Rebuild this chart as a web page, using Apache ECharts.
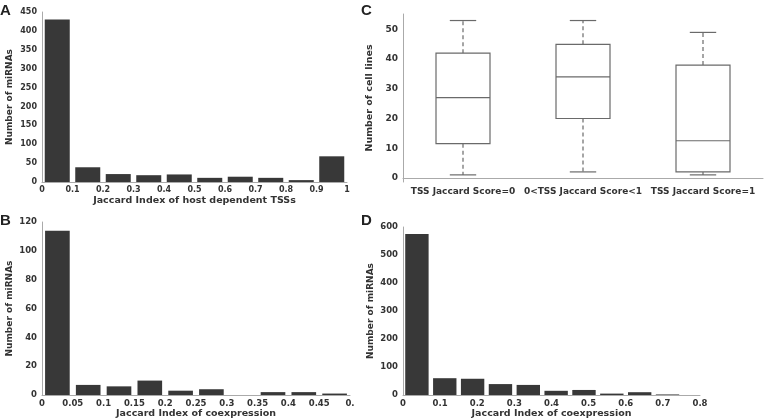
<!DOCTYPE html>
<html><head><meta charset="utf-8">
<script src="https://cdn.jsdelivr.net/npm/echarts@6/dist/echarts.min.js"></script>
<style>html,body{margin:0;padding:0;background:#fff}#c{width:765px;height:420px}</style>
</head><body><div id="c"></div>
<script>
// Panel A: histogram of Jaccard index of host dependent TSSs (bin centers, counts)
const aBinCenters = [0.05, 0.15, 0.25, 0.35, 0.45, 0.55, 0.65, 0.75, 0.85, 0.95];
const aCounts = [430, 39, 21, 18, 20, 11, 14, 11, 5, 68];
// Panel B: histogram of Jaccard index of coexpression
const bBinCenters = [0.025, 0.075, 0.125, 0.175, 0.225, 0.275, 0.325, 0.375, 0.425, 0.475];
const bCounts = [114, 7, 6, 10, 3, 4, 0, 2, 2, 1];
// Panel C: boxplot of number of cell lines [min, Q1, median, Q3, max]
const cCategories = ['TSS Jaccard Score=0', '0<TSS Jaccard Score<1', 'TSS Jaccard Score=1'];
const cBoxes = [
  [1, 11.5, 27, 42, 53],
  [2, 20, 34, 45, 53],
  [1, 2, 12.5, 38, 49]
];
// Panel D: histogram of Jaccard index of coexpression
const dBinCenters = [0.0375, 0.1125, 0.1875, 0.2625, 0.3375, 0.4125, 0.4875, 0.5625, 0.6375, 0.7125];
const dCounts = [575, 60, 58, 39, 36, 15, 18, 5, 10, 2];
// tick values
const cTicks = [0, 10, 20, 30, 40, 50];

const TXT = '#333';
const FONT = 'DejaVu Sans';
const AXL = '#aaa';
const BAR = '#383838';

function valX(gi, max, interval, name, fs, fmt) {
  return {
    type: 'value', gridIndex: gi, min: 0, max: max, interval: interval,
    name: name, nameLocation: 'middle', nameGap: 14,
    nameTextStyle: {color: TXT, fontFamily: FONT, fontWeight: 'bold', fontSize: 9.5},
    axisLine: {show: true, lineStyle: {color: AXL, width: 1}},
    axisTick: {show: false}, splitLine: {show: false},
    axisLabel: {color: TXT, fontFamily: FONT, fontWeight: 'bold', fontSize: fs, margin: 4,
      showMaxLabel: true, formatter: fmt || (v => String(+v.toFixed(3)))}
  };
}
function valY(gi, max, interval, fs) {
  return {
    type: 'value', gridIndex: gi, min: 0, max: max, interval: interval,
    name: 'Number of miRNAs', nameLocation: 'middle', nameGap: 28,
    nameTextStyle: {color: TXT, fontFamily: FONT, fontWeight: 'bold', fontSize: 9},
    axisLine: {show: true, lineStyle: {color: AXL, width: 1}},
    axisTick: {show: false}, splitLine: {show: false},
    axisLabel: {color: TXT, fontFamily: FONT, fontWeight: 'bold', fontSize: fs, margin: 5}
  };
}
function pairs(xs, ys) { return xs.map((x, i) => [x, ys[i]]); }

const chart = echarts.init(document.getElementById('c'), null, {renderer: 'canvas'});
const letterStyle = {fontFamily: 'Liberation Sans', fontWeight: 'bold', fontSize: 15, fill: '#222'};

chart.setOption({
  animation: false,
  backgroundColor: '#fff',
  grid: [
    {left: 42, right: 418, top: 12, bottom: 238},
    {left: 42, right: 415, top: 222, bottom: 25},
    {left: 403, right: 2, top: 14, bottom: 238},
    {left: 403, right: 65, top: 227, bottom: 25}
  ],
  xAxis: [
    valX(0, 1, 0.1, 'Jaccard Index of host dependent TSSs', 8),
    valX(1, 0.5, 0.05, 'Jaccard Index of coexpression', 8.5, v => (Math.abs(v - 0.5) < 1e-9 ? '0.' : String(+v.toFixed(3)))),
    {
      type: 'category', gridIndex: 2, data: cCategories, boundaryGap: true,
      axisLine: {show: true, lineStyle: {color: AXL, width: 1}},
      axisTick: {show: false}, splitLine: {show: false},
      axisLabel: {color: TXT, fontFamily: FONT, fontWeight: 'bold', fontSize: 9, margin: 5, interval: 0}
    },
    valX(3, 0.8, 0.1, 'Jaccard Index of coexpression', 8.5)
  ],
  yAxis: [
    valY(0, 450, 50, 8),
    valY(1, 120, 20, 8.5),
    {
      type: 'value', gridIndex: 2, min: -1.4, max: 55.2,
      name: 'Number of cell lines', nameLocation: 'middle', nameGap: 28,
      nameTextStyle: {color: TXT, fontFamily: FONT, fontWeight: 'bold', fontSize: 9.5},
      axisLine: {show: true, lineStyle: {color: AXL, width: 1}},
      axisTick: {show: false}, splitLine: {show: false},
      axisLabel: {color: TXT, fontFamily: FONT, fontWeight: 'bold', fontSize: 9, margin: 5,
        customValues: cTicks}
    },
    valY(3, 600, 100, 8.5)
  ],
  series: [
    {type: 'bar', xAxisIndex: 0, yAxisIndex: 0, data: pairs(aBinCenters, aCounts), barWidth: '82%', itemStyle: {color: BAR}},
    {type: 'bar', xAxisIndex: 1, yAxisIndex: 1, data: pairs(bBinCenters, bCounts), barWidth: '80%', itemStyle: {color: BAR}},
    {type: 'bar', xAxisIndex: 3, yAxisIndex: 3, data: pairs(dBinCenters, dCounts), barWidth: '84%', itemStyle: {color: BAR}},
    {
      type: 'custom', xAxisIndex: 2, yAxisIndex: 2,
      data: cBoxes.map((b, i) => [i].concat(b)),
      encode: {x: 0, y: [1, 2, 3, 4, 5]},
      renderItem: function (params, api) {
        const i = api.value(0);
        const band = api.size([1, 0])[0];
        const bw = band * 0.45, cw = band * 0.22;
        const pMin = api.coord([i, api.value(1)]);
        const pQ1 = api.coord([i, api.value(2)]);
        const pMed = api.coord([i, api.value(3)]);
        const pQ3 = api.coord([i, api.value(4)]);
        const pMax = api.coord([i, api.value(5)]);
        const cx = pMed[0];
        const solid = {stroke: '#6a6a6a', lineWidth: 1.2, fill: null};
        const dashed = {stroke: '#6a6a6a', lineWidth: 1.2, lineDash: [4, 3]};
        return {
          type: 'group',
          children: [
            {type: 'line', shape: {x1: cx, y1: pQ1[1], x2: cx, y2: pMin[1]}, style: dashed},
            {type: 'line', shape: {x1: cx, y1: pQ3[1], x2: cx, y2: pMax[1]}, style: dashed},
            {type: 'line', shape: {x1: cx - cw / 2, y1: pMin[1], x2: cx + cw / 2, y2: pMin[1]}, style: solid},
            {type: 'line', shape: {x1: cx - cw / 2, y1: pMax[1], x2: cx + cw / 2, y2: pMax[1]}, style: solid},
            {type: 'rect', shape: {x: cx - bw / 2, y: pQ3[1], width: bw, height: pQ1[1] - pQ3[1]}, style: {stroke: '#6a6a6a', lineWidth: 1.2, fill: '#fff'}},
            {type: 'line', shape: {x1: cx - bw / 2, y1: pMed[1], x2: cx + bw / 2, y2: pMed[1]}, style: solid}
          ]
        };
      }
    }
  ],
  graphic: [
    {type: 'text', left: 0, top: 3, style: Object.assign({text: 'A'}, letterStyle)},
    {type: 'text', left: 0, top: 213, style: Object.assign({text: 'B'}, letterStyle)},
    {type: 'text', left: 361, top: 3, style: Object.assign({text: 'C'}, letterStyle)},
    {type: 'text', left: 361, top: 213, style: Object.assign({text: 'D'}, letterStyle)}
  ]
});
</script>
</body></html>
